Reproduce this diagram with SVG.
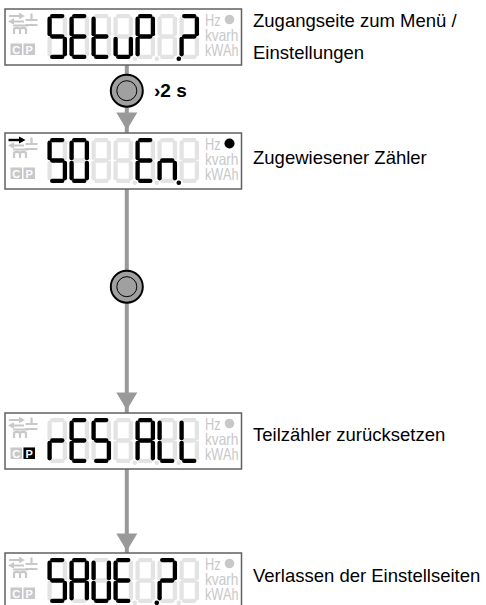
<svg xmlns="http://www.w3.org/2000/svg" xmlns:xlink="http://www.w3.org/1999/xlink" width="486" height="605" viewBox="0 0 486 605">
<style>
.frame{fill:#fff;stroke:#606060;stroke-width:1.5}
.seg{fill:none;stroke-width:4.3;stroke-linecap:round}
.ghost{stroke:#e3e3e3}
.on{stroke:#000}
.gdot{fill:#e3e3e3}
.bdot{fill:#000}
.dim{fill:#c8c8c8}
.dimS{fill:none;stroke:#c8c8c8;stroke-width:2.2}
.blkS{fill:none;stroke:#000;stroke-width:2.4}
.unit{font-family:"Liberation Sans",Arial,sans-serif;font-size:16.5px;fill:#c8c8c8}
.cp{font-family:"Liberation Sans",Arial,sans-serif;font-size:11px;font-weight:bold;fill:#fff;text-anchor:middle}
.label{font-family:"Liberation Sans",Arial,sans-serif;font-size:18.5px;fill:#000}
.time{font-family:"Liberation Sans",Arial,sans-serif;font-size:19px;font-weight:bold;fill:#000}
.conn{stroke:#999;stroke-width:4;fill:none}
.head{fill:#999}
.btn{fill:#a0a0a0;stroke:#000;stroke-width:2}
.btnIn{fill:#a0a0a0;stroke:#000;stroke-width:1}
</style>
<defs>
 <path id="sa" d="M4.7,2.1H14.8"/>
 <path id="sb" d="M17.4,4.7V20.2"/>
 <path id="sc" d="M17.4,24.8V40.3"/>
 <path id="sd" d="M4.7,42.9H14.8"/>
 <path id="se" d="M2.1,24.8V40.3"/>
 <path id="sf" d="M2.1,4.7V20.2"/>
 <path id="sg" d="M4.7,22.5H14.8"/>
 <g id="d8" class="seg ghost">
  <use xlink:href="#sa"/><use xlink:href="#sb"/><use xlink:href="#sc"/><use xlink:href="#sd"/><use xlink:href="#se"/><use xlink:href="#sf"/><use xlink:href="#sg"/>
 </g>
 <g id="lcdbase">
  <rect class="frame" x="0" y="0" width="236.5" height="56"/>
  <path class="dimS" d="M4,7H15M8,12.5H19"/>
  <polygon class="dim" points="14,3.8 20,7 14,10.2"/>
  <polygon class="dim" points="9,9.3 3,12.5 9,15.7"/>
  <path class="dimS" d="M26.5,4.5V11M20.5,11H32.5M20.5,16H32.5"/>
  <path class="dimS" d="M8,16.5H23M9,25V20.5Q9,18.8 12,18.8Q15,18.8 15,20.5V25M15,20.5Q15,18.8 18,18.8Q21,18.8 21,20.5V25"/>
  <rect class="dim" x="5.5" y="34.5" width="11.5" height="11.5"/>
  <text class="cp" x="11.25" y="44.5">C</text>
  <rect class="dim" x="18.5" y="34.5" width="11.5" height="11.5"/>
  <text class="cp" x="24.25" y="44.5">P</text>
  <text class="unit" x="200" y="17" textLength="15.5" lengthAdjust="spacingAndGlyphs">Hz</text>
  <circle class="dim" cx="224.5" cy="10.5" r="4.8"/>
  <text class="unit" x="200" y="32" textLength="33.5" lengthAdjust="spacingAndGlyphs">kvarh</text>
  <text class="unit" x="200" y="46.5" textLength="33.5" lengthAdjust="spacingAndGlyphs">kWAh</text>
  <use xlink:href="#d8" x="42.5" y="5"/>
  <use xlink:href="#d8" x="64.5" y="5"/>
  <use xlink:href="#d8" x="86.5" y="5"/>
  <use xlink:href="#d8" x="108.5" y="5"/>
  <use xlink:href="#d8" x="130.5" y="5"/>
  <use xlink:href="#d8" x="152.5" y="5"/>
  <use xlink:href="#d8" x="174.5" y="5"/>
  <circle class="gdot" cx="129.8" cy="49.8" r="2.3"/>
  <circle class="gdot" cx="151.8" cy="49.8" r="2.3"/>
  <circle class="gdot" cx="173.8" cy="49.8" r="2.3"/>
 </g>
</defs>

<g id="connectors">
 <line class="conn" x1="126.8" y1="65" x2="126.8" y2="133"/>
 <line class="conn" x1="126.8" y1="189" x2="126.8" y2="413"/>
 <line class="conn" x1="126.8" y1="469" x2="126.8" y2="553"/>
 <polygon class="head" points="116.3,112.5 137.3,112.5 126.8,130"/>
 <polygon class="head" points="116.3,392.5 137.3,392.5 126.8,410"/>
 <polygon class="head" points="116.3,533.5 137.3,533.5 126.8,551"/>
</g>

<g id="button1">
 <circle class="btn" cx="126.8" cy="90.7" r="16"/>
 <circle class="btnIn" cx="126.8" cy="90.7" r="10"/>
 <text class="time" x="154" y="97">›2 s</text>
</g>

<g id="button2">
 <circle class="btn" cx="126.8" cy="286.7" r="16"/>
 <circle class="btnIn" cx="126.8" cy="286.7" r="10"/>
</g>

<g id="lcd-setup" aria-label="SEtuP.?">
 <g transform="translate(5,9)">
  <use xlink:href="#lcdbase"/>
  <g class="seg on">
   <g transform="translate(42.5,5)"><use xlink:href="#sa"/><use xlink:href="#sf"/><use xlink:href="#sg"/><use xlink:href="#sc"/><use xlink:href="#sd"/></g>
   <g transform="translate(64.5,5)"><use xlink:href="#sa"/><use xlink:href="#sf"/><use xlink:href="#sg"/><use xlink:href="#se"/><use xlink:href="#sd"/></g>
   <g transform="translate(86.5,5)"><use xlink:href="#sf"/><use xlink:href="#sg"/><use xlink:href="#se"/><use xlink:href="#sd"/></g>
   <g transform="translate(108.5,5)"><use xlink:href="#se"/><use xlink:href="#sd"/><use xlink:href="#sc"/></g>
   <g transform="translate(130.5,5)"><use xlink:href="#sa"/><use xlink:href="#sb"/><use xlink:href="#sf"/><use xlink:href="#sg"/><use xlink:href="#se"/></g>
   <g transform="translate(174.5,5)"><use xlink:href="#sa"/><use xlink:href="#sb"/><use xlink:href="#sg"/><use xlink:href="#se"/></g>
  </g>
  <circle class="bdot" cx="173.8" cy="49.8" r="2.3"/>
 </g>
 <text class="label" x="253" y="27">Zugangseite zum Menü /</text>
 <text class="label" x="253" y="59">Einstellungen</text>
</g>

<g id="lcd-meter" aria-label="50 En.">
 <g transform="translate(5,133)">
  <use xlink:href="#lcdbase"/>
  <path class="blkS" d="M3.5,7H15"/>
  <polygon class="bdot" points="14,3.5 20.5,7 14,10.5"/>
  <circle class="bdot" cx="224.5" cy="10.5" r="5"/>
  <g class="seg on">
   <g transform="translate(42.5,5)"><use xlink:href="#sa"/><use xlink:href="#sf"/><use xlink:href="#sg"/><use xlink:href="#sc"/><use xlink:href="#sd"/></g>
   <g transform="translate(64.5,5)"><use xlink:href="#sa"/><use xlink:href="#sb"/><use xlink:href="#sc"/><use xlink:href="#sd"/><use xlink:href="#se"/><use xlink:href="#sf"/></g>
   <g transform="translate(130.5,5)"><use xlink:href="#sa"/><use xlink:href="#sf"/><use xlink:href="#sg"/><use xlink:href="#se"/><use xlink:href="#sd"/></g>
   <g transform="translate(152.5,5)"><use xlink:href="#se"/><use xlink:href="#sg"/><use xlink:href="#sc"/></g>
  </g>
  <circle class="bdot" cx="173.8" cy="49.8" r="2.3"/>
 </g>
 <text class="label" x="253" y="164">Zugewiesener Zähler</text>
</g>

<g id="lcd-reset" aria-label="rES ALL">
 <g transform="translate(5,413)">
  <use xlink:href="#lcdbase"/>
  <rect class="bdot" x="18.5" y="34.5" width="11.5" height="11.5"/>
  <text class="cp" x="24.25" y="44.5">P</text>
  <g class="seg on">
   <g transform="translate(42.5,5)"><use xlink:href="#se"/><use xlink:href="#sg"/></g>
   <g transform="translate(64.5,5)"><use xlink:href="#sa"/><use xlink:href="#sf"/><use xlink:href="#sg"/><use xlink:href="#se"/><use xlink:href="#sd"/></g>
   <g transform="translate(86.5,5)"><use xlink:href="#sa"/><use xlink:href="#sf"/><use xlink:href="#sg"/><use xlink:href="#sc"/><use xlink:href="#sd"/></g>
   <g transform="translate(130.5,5)"><use xlink:href="#sa"/><use xlink:href="#sb"/><use xlink:href="#sc"/><use xlink:href="#se"/><use xlink:href="#sf"/><use xlink:href="#sg"/></g>
   <g transform="translate(152.5,5)"><use xlink:href="#sf"/><use xlink:href="#se"/><use xlink:href="#sd"/></g>
   <g transform="translate(174.5,5)"><use xlink:href="#sf"/><use xlink:href="#se"/><use xlink:href="#sd"/></g>
  </g>
 </g>
 <text class="label" x="253" y="441">Teilzähler zurücksetzen</text>
</g>

<g id="lcd-save" aria-label="SAUE.?">
 <g transform="translate(5,553)">
  <use xlink:href="#lcdbase"/>
  <g class="seg on">
   <g transform="translate(42.5,5)"><use xlink:href="#sa"/><use xlink:href="#sf"/><use xlink:href="#sg"/><use xlink:href="#sc"/><use xlink:href="#sd"/></g>
   <g transform="translate(64.5,5)"><use xlink:href="#sa"/><use xlink:href="#sb"/><use xlink:href="#sc"/><use xlink:href="#se"/><use xlink:href="#sf"/><use xlink:href="#sg"/></g>
   <g transform="translate(86.5,5)"><use xlink:href="#sf"/><use xlink:href="#se"/><use xlink:href="#sd"/><use xlink:href="#sc"/><use xlink:href="#sb"/></g>
   <g transform="translate(108.5,5)"><use xlink:href="#sa"/><use xlink:href="#sf"/><use xlink:href="#sg"/><use xlink:href="#se"/><use xlink:href="#sd"/></g>
   <g transform="translate(152.5,5)"><use xlink:href="#sa"/><use xlink:href="#sb"/><use xlink:href="#sg"/><use xlink:href="#se"/></g>
  </g>
  <circle class="bdot" cx="151.8" cy="49.8" r="2.3"/>
 </g>
 <text class="label" x="253" y="582">Verlassen der Einstellseiten</text>
</g>
</svg>
